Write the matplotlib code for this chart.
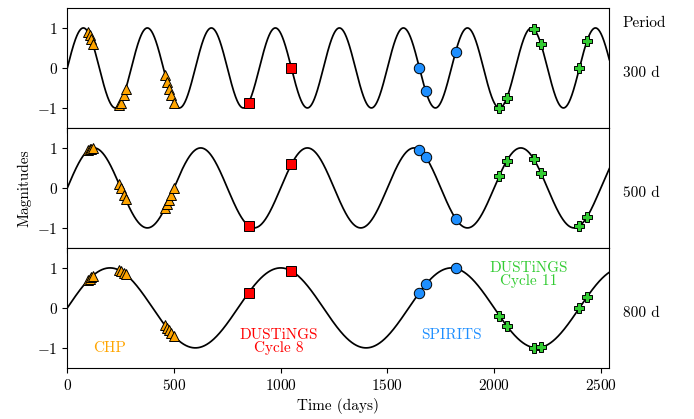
import numpy as np
import matplotlib
matplotlib.use('Agg')
import matplotlib.pyplot as plt

plt.rcParams['font.family'] = 'serif'
plt.rcParams['font.serif'] = ['cmr10']
plt.rcParams['mathtext.fontset'] = 'cm'
plt.rcParams['axes.formatter.use_mathtext'] = True

# periods of the model light curves (days)
periods = [300, 500, 800]
period_labels = ['300 d', '500 d', '800 d']

# observation epochs (days) for each survey
chp_times = [97, 104, 111, 119, 242, 250, 264, 273, 458, 467, 476, 485, 500]
dustings8_times = [850, 1050]
spirits_times = [1650, 1680, 1820]
dustings11_times = [2025, 2060, 2185, 2220, 2400, 2435]

surveys = [
    ('CHP', chp_times, '^', 'orange'),
    ('DUSTiNGS\nCycle 8', dustings8_times, 's', 'red'),
    ('SPIRITS', spirits_times, 'o', '#1E8FFF'),
    ('DUSTiNGS\nCycle 11', dustings11_times, 'P', '#33CC33'),
]
# label positions in bottom panel (days, mag)
label_pos = [(200, -1.0), (990, -0.85), (1800, -0.68), (2160, 0.83)]

xmax = 2540
t = np.linspace(0, xmax, 3000)

fig, axes = plt.subplots(3, 1, figsize=(6.94, 4.19), dpi=100, sharex=True)
fig.subplots_adjust(left=0.097, right=0.878, top=0.981, bottom=0.122, hspace=0)

for ax, P, plab in zip(axes, periods, period_labels):
    ax.plot(t, np.sin(2 * np.pi * t / P), color='black', lw=1.25, zorder=1)
    for name, times, mk, col in surveys:
        times = np.array(times)
        ax.plot(times, np.sin(2 * np.pi * times / P), ls='none', marker=mk,
                ms=7.5, mfc=col, mec='black', mew=0.7, zorder=3)
    ax.set_xlim(0, xmax)
    ax.set_ylim(-1.5, 1.5)
    ax.set_yticks([-1, 0, 1])
    ax.tick_params(labelsize=11)
    ax.text(1.025, 0.46, plab, transform=ax.transAxes, fontsize=11,
            va='center', ha='left')

axes[0].text(1.025, 0.87, 'Period', transform=axes[0].transAxes, fontsize=11,
             va='center', ha='left')

for (name, times, mk, col), (x, y) in zip(surveys, label_pos):
    axes[2].text(x, y, name, color=col, fontsize=11, ha='center', va='center',
                 linespacing=0.9)

axes[1].set_ylabel('Magnitudes', fontsize=11)
axes[2].set_xlabel('Time (days)', fontsize=11)
axes[2].set_xticks([0, 500, 1000, 1500, 2000, 2500])

fig.savefig('out.png', dpi=100)
